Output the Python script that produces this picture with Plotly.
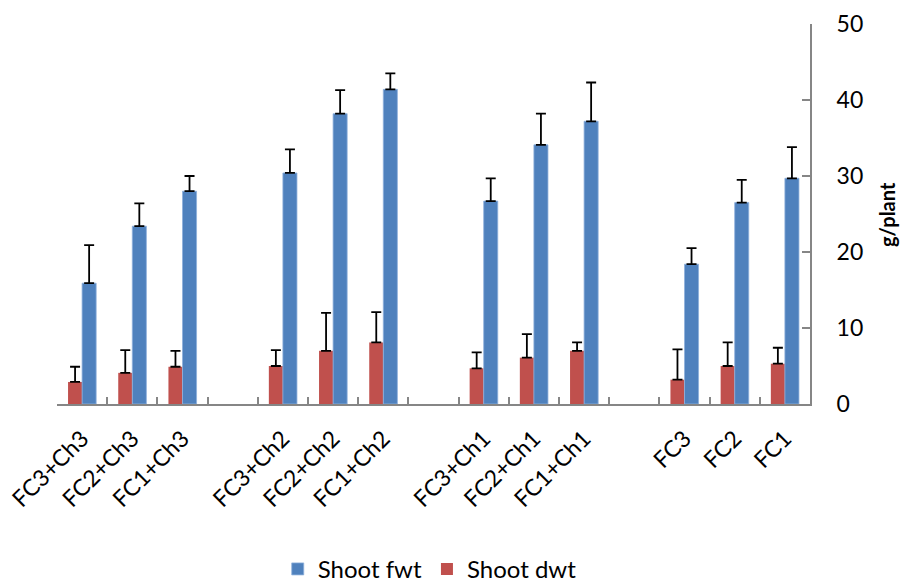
import plotly.graph_objects as go

categories = ["FC3+Ch3", "FC2+Ch3", "FC1+Ch3", " ",
              "FC3+Ch2", "FC2+Ch2", "FC1+Ch2", "  ",
              "FC3+Ch1", "FC2+Ch1", "FC1+Ch1", "   ",
              "FC3", "FC2", "FC1"]

shoot_dwt = [2.9, 4.1, 4.9, None, 5.0, 7.0, 8.1, None, 4.7, 6.1, 7.0, None, 3.2, 5.0, 5.3]
shoot_dwt_err = [2.0, 3.0, 2.1, None, 2.1, 5.0, 4.0, None, 2.1, 3.1, 1.1, None, 4.0, 3.1, 2.1]

shoot_fwt = [15.9, 23.4, 28.0, None, 30.4, 38.2, 41.4, None, 26.7, 34.1, 37.2, None, 18.4, 26.5, 29.7]
shoot_fwt_err = [5.0, 3.0, 2.0, None, 3.1, 3.1, 2.1, None, 3.0, 4.1, 5.1, None, 2.1, 3.0, 4.1]

y_ticks = [0, 10, 20, 30, 40, 50]
y_title = "g/plant"

FONT = "Lato, 'Open Sans', sans-serif"

fig = go.Figure()
fig.add_trace(go.Bar(
    name="Shoot dwt", x=categories, y=shoot_dwt,
    marker=dict(color="#C0504D", line=dict(width=0)),
    error_y=dict(type="data", array=shoot_dwt_err, symmetric=False,
                 arrayminus=[0] * len(categories), color="black",
                 thickness=1.8, width=5),
    legendrank=2,
))
fig.add_trace(go.Bar(
    name="Shoot fwt", x=categories, y=shoot_fwt,
    marker=dict(color="#4F81BD", line=dict(color="#8EB0DC", width=0.8)),
    error_y=dict(type="data", array=shoot_fwt_err, symmetric=False,
                 arrayminus=[0] * len(categories), color="black",
                 thickness=1.8, width=5),
    legendrank=1,
))

fig.update_layout(
    width=901, height=586,
    margin=dict(l=57, r=91, t=24, b=182, autoexpand=False),
    paper_bgcolor="white", plot_bgcolor="white",
    barmode="group", bargap=0.44, bargroupgap=0,
    font=dict(family=FONT, size=20, color="black"),
    legend=dict(orientation="h", x=0.495, xanchor="center",
                y=-0.435, yanchor="middle",
                font=dict(family=FONT, size=24, color="black"),
                itemwidth=30, tracegroupgap=0),
    showlegend=True,
)

fig.update_xaxes(
    type="category", categoryorder="array", categoryarray=categories,
    showline=True, linecolor="#868686", linewidth=2,
    ticks="inside", tickson="boundaries", ticklen=7, tickcolor="#868686", tickwidth=1.5,
    tickangle=-45, tickfont=dict(family=FONT, size=23, color="black"),
    ticklabelstandoff=10, automargin=False,
    showgrid=False, zeroline=False,
)

fig.update_yaxes(
    side="right", range=[0, 50], tickvals=y_ticks,
    showline=True, linecolor="#868686", linewidth=2,
    ticks="inside", ticklen=8, tickcolor="#868686", tickwidth=1.5,
    tickfont=dict(family=FONT, size=23, color="black"),
    ticklabelstandoff=20, automargin=False,
    showgrid=False, zeroline=False,
)

fig.add_annotation(
    text="<b>" + y_title + "</b>", textangle=-90,
    xref="paper", yref="paper", x=(887 - 57) / 753, y=0.5,
    xanchor="center", yanchor="middle", showarrow=False,
    font=dict(family=FONT, size=20, color="black"),
)

fig.write_html("out.html", config={"displayModeBar": False},
               post_script="document.body.style.margin='0';")
